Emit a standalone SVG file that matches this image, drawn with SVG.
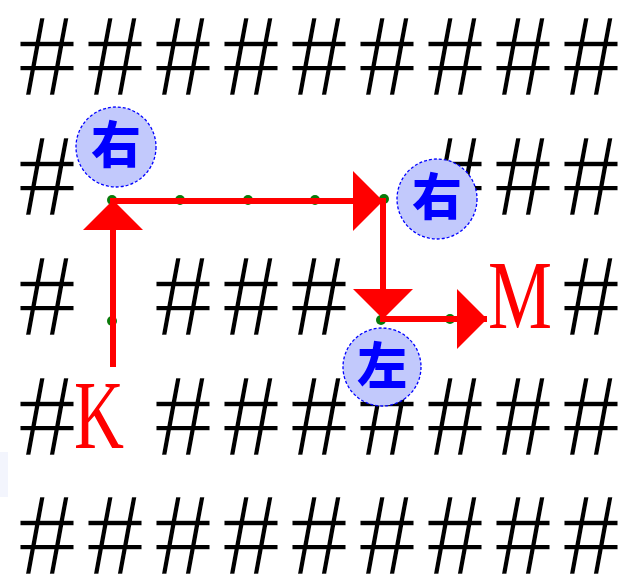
<svg xmlns="http://www.w3.org/2000/svg" width="619" height="574" viewBox="0 0 619 574">
<style>
.h{font-family:"Liberation Serif",serif;font-size:118px;fill:#000;stroke:#fff;stroke-width:1.6px;text-anchor:middle}
.lbl{font-family:"Liberation Serif",serif;font-size:98px;fill:#ff0000;text-anchor:middle}
.dot{fill:#0a7a0a}
.seg{stroke:#ff0000;stroke-width:6;fill:none;marker-end:url(#ah)}
.mk{fill:#c2c9fc;stroke:#0000ff;stroke-width:1.3;stroke-dasharray:3 2}
.mt{font-family:"Noto Sans CJK JP","Noto Sans CJK SC",sans-serif;font-weight:900;font-size:50px;fill:#0000ff;text-anchor:middle}
</style>
<defs>
<marker id="ah" viewBox="0 0 30 60" refX="30" refY="30" markerWidth="30" markerHeight="60" markerUnits="userSpaceOnUse" orient="auto">
<path d="M0,0 L30,30 L0,60 z" fill="#ff0000"/>
</marker>
</defs>
<rect x="0" y="452" width="8" height="45" fill="#f3f5fd"/>
<g id="grid">
<text class="h" x="47 115 183 251 319 387 455 523 591" y="95">#########</text>
<text class="h" x="47 455 523 591" y="215">####</text>
<text class="h" x="47 183 251 319 591" y="335">#####</text>
<text class="h" x="47 183 251 319 387 455 523 591" y="455">########</text>
<text class="h" x="47 115 183 251 319 387 455 523 591" y="574">#########</text>
</g>
<g id="dots">
<circle class="dot" cx="112" cy="200" r="5"/>
<circle class="dot" cx="180" cy="200" r="5"/>
<circle class="dot" cx="248" cy="200" r="5"/>
<circle class="dot" cx="315" cy="200" r="5"/>
<circle class="dot" cx="384" cy="199" r="5"/>
<circle class="dot" cx="112" cy="321" r="5"/>
<circle class="dot" cx="381" cy="320" r="5"/>
<circle class="dot" cx="450" cy="319" r="5"/>
</g>
<g id="connectors">
<line class="seg" x1="113" y1="367" x2="113" y2="200"/>
<line class="seg" x1="110" y1="201" x2="383" y2="201"/>
<line class="seg" x1="383" y1="198" x2="383" y2="319"/>
<line class="seg" x1="380" y1="319" x2="487" y2="319"/>
</g>
<g id="K"><text class="lbl" x="99" y="448" textLength="50" lengthAdjust="spacingAndGlyphs">K</text></g>
<g id="M"><text class="lbl" x="520" y="328" textLength="64" lengthAdjust="spacingAndGlyphs">M</text></g>
<g id="turn1"><circle class="mk" cx="116" cy="147" r="40"/><text class="mt" x="116" y="163">右</text></g>
<g id="turn2"><circle class="mk" cx="437" cy="199" r="40"/><text class="mt" x="437" y="215">右</text></g>
<g id="turn3"><circle class="mk" cx="382" cy="367" r="39"/><text class="mt" x="382" y="384">左</text></g>
</svg>
